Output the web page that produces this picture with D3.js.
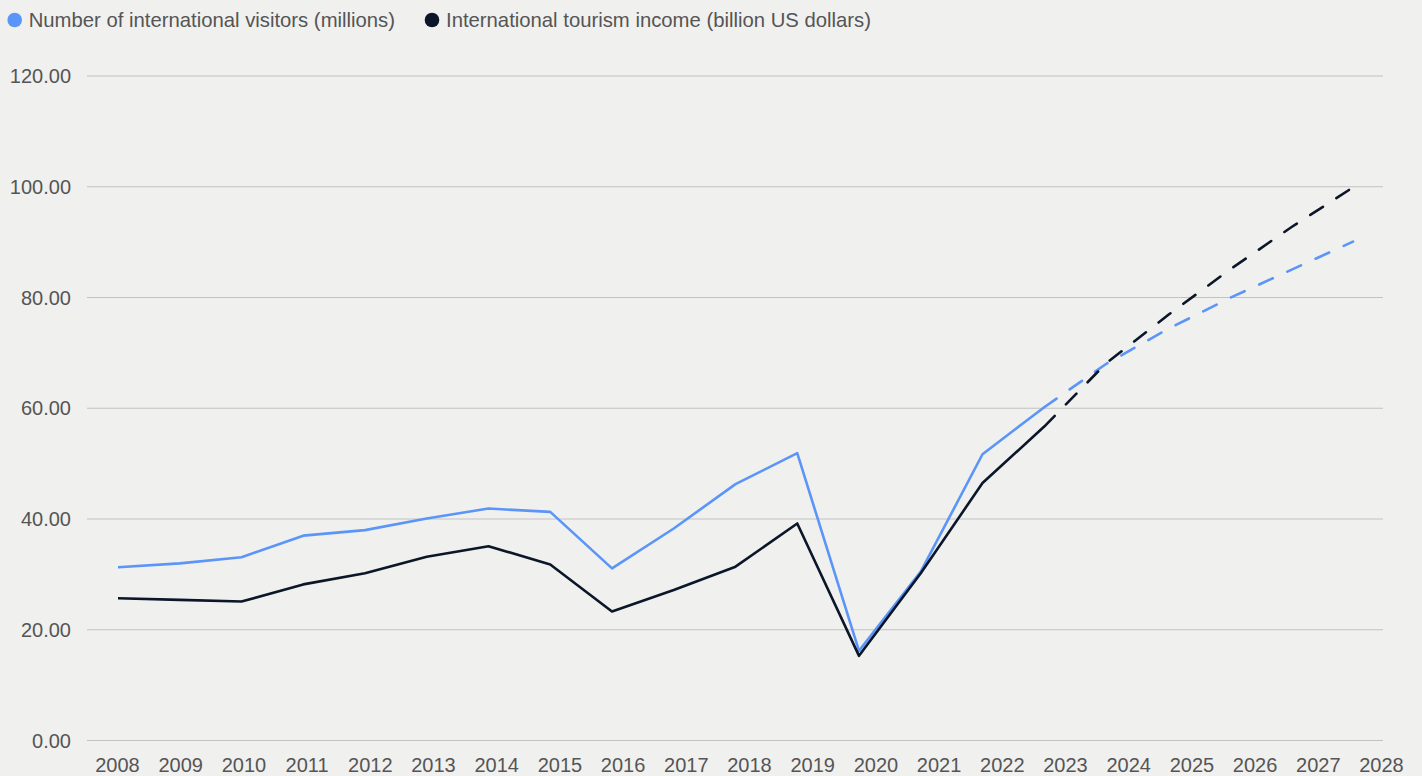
<!DOCTYPE html>
<html>
<head>
<meta charset="utf-8">
<script src="https://cdn.jsdelivr.net/npm/d3@7"></script>
<style>
  html, body { margin: 0; padding: 0; background: #f0f0ef; }
  svg { display: block; font-family: "Liberation Sans", Arial, sans-serif; }
  .tick text { fill: #555; font-size: 20px; }
</style>
</head>
<body>
<svg id="chart"></svg>
<script>
// years on the x axis (labels)
const years = d3.range(2008, 2029);
const yTicks = [0, 20, 40, 60, 80, 100, 120];

// values, 2008 - 2028 (2024 onward is forecast)
const visitors = [31.2, 31.9, 33.0, 36.9, 37.9, 40.0, 41.8, 41.2, 31.0, 38.2, 46.2,
                  51.8, 16.1, 30.4, 51.6, 60.1, 67.9, 74.2, 79.8, 84.9, 90.0];
const income = [25.6, 25.3, 25.0, 28.1, 30.1, 33.1, 35.0, 31.7, 23.2, 27.1, 31.3,
                39.1, 15.2, 30.1, 46.4, 56.6, 68.0, 76.7, 84.9, 92.6, 99.8];
const lastActual = 2023;

const seriesNames = ["Number of international visitors (millions)",
                     "International tourism income (billion US dollars)"];
const colors = ["#5b95f8", "#0b1628"];

const W = 1422, H = 776;
const svg = d3.select("#chart").attr("width", W).attr("height", H);

// label positions and data positions don't line up exactly in the original
const xLabel = d3.scalePoint().domain(years).range([117, 1381]);
const x = d3.scaleLinear().domain([2008, 2028]).range([118, 1353]);
const y = d3.scaleLinear().domain([0, 120]).range([740, 75.5]);

// grid + y labels
const yAxis = d3.axisLeft(y)
    .tickValues(yTicks)
    .tickSize(-(1383 - 87))
    .tickPadding(16)
    .tickFormat(d3.format(".2f"));
svg.append("g")
    .attr("class", "yaxis")
    .attr("transform", "translate(87,0)")
    .call(yAxis)
    .call(g => g.select(".domain").remove())
    .call(g => g.selectAll(".tick line").attr("stroke", "#c2c2c2"))
    .call(g => g.selectAll(".tick text").attr("x", -16).attr("dy", "0.35em"));

// x labels
const xAxis = d3.axisBottom(xLabel).tickSize(0).tickPadding(0);
svg.append("g")
    .attr("class", "xaxis")
    .attr("transform", "translate(0,758)")
    .call(xAxis)
    .call(g => g.select(".domain").remove())
    .call(g => g.selectAll(".tick text").attr("dy", "0.71em"));

// lines
const line = d3.line().x(d => x(d.year)).y(d => y(d.value));
[visitors, income].forEach((vals, i) => {
    const pts = years.map((yr, j) => ({ year: yr, value: vals[j] }));
    svg.append("path")
        .datum(pts.filter(d => d.year <= lastActual))
        .attr("fill", "none")
        .attr("stroke", colors[i])
        .attr("stroke-width", 2.6)
        .attr("stroke-linejoin", "round")
        .attr("d", line);
    // forecast part, dashed
    svg.append("path")
        .datum(pts.filter(d => d.year >= lastActual))
        .attr("fill", "none")
        .attr("stroke", colors[i])
        .attr("stroke-width", 2.6)
        .attr("stroke-linecap", "round")
        .attr("stroke-dasharray", "15,16")
        .attr("d", line);
});

// legend
const legendX = [14.7, 432];
const legend = svg.append("g").attr("class", "legend");
seriesNames.forEach((name, i) => {
    legend.append("circle")
        .attr("cx", legendX[i])
        .attr("cy", 20)
        .attr("r", 7.3)
        .attr("fill", colors[i]);
    legend.append("text")
        .attr("x", legendX[i] + 14)
        .attr("y", 20)
        .attr("dy", "0.35em")
        .attr("fill", "#555")
        .style("font-size", "20.3px")
        .text(name);
});
</script>
</body>
</html>
